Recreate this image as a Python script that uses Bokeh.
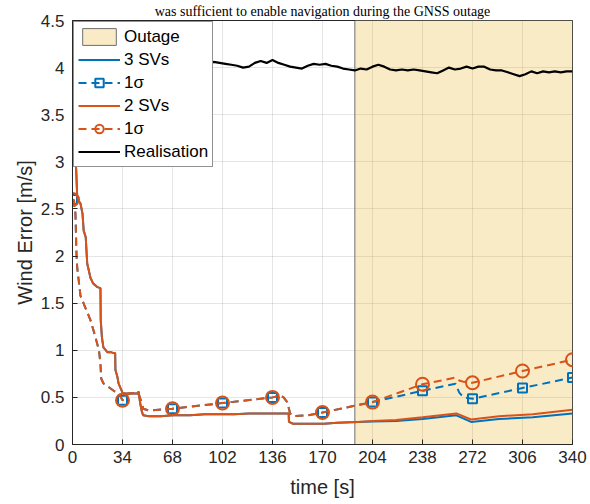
import numpy as np
from bokeh.plotting import figure
from bokeh.models import (Range1d, FixedTicker, CustomJSTickFormatter, Legend,
                          LegendItem, Title)
from bokeh.embed import file_html
from bokeh.resources import INLINE

# GNSS outage window [s]
outage_start = 192
outage_end = 340

x_ticks = [0, 34, 68, 102, 136, 170, 204, 238, 272, 306, 340]
y_ticks = [0, 0.5, 1, 1.5, 2, 2.5, 3, 3.5, 4, 4.5]

# wind estimation error, identical for both constellations before the outage
t_err = [0, 1.5, 2.5, 3.2, 4, 5.4, 6.8, 7.6, 9, 10, 12.2, 14, 17, 19, 19.2, 20,
         21, 23.7, 26, 28, 29, 29.2, 30.5, 31.3, 32.6, 34, 36, 40, 44, 45, 46,
         47, 48, 52, 60, 68, 80, 90, 102, 110, 120, 128, 136, 143, 147, 147.2,
         150, 160, 171, 180, 194, 204, 220, 238, 261, 271, 290, 313, 340]
err_3sv = [3.4, 3.1, 2.92, 2.63, 2.59, 2.56, 2.45, 2.27, 2.2, 1.92, 1.77, 1.71,
           1.67, 1.66, 1.32, 1.14, 1.03, 0.98, 0.98, 0.97, 0.97, 0.79, 0.72,
           0.65, 0.6, 0.55, 0.54, 0.54, 0.54, 0.56, 0.44, 0.36, 0.31, 0.30,
           0.30, 0.31, 0.31, 0.32, 0.32, 0.32, 0.33, 0.33, 0.33, 0.33, 0.33,
           0.24, 0.22, 0.22, 0.22, 0.23, 0.24, 0.245, 0.25, 0.27, 0.31, 0.24,
           0.27, 0.29, 0.33]
err_2sv = [3.4, 3.1, 2.92, 2.63, 2.59, 2.56, 2.45, 2.27, 2.2, 1.92, 1.77, 1.71,
           1.67, 1.66, 1.32, 1.14, 1.03, 0.98, 0.98, 0.97, 0.97, 0.79, 0.72,
           0.65, 0.6, 0.55, 0.54, 0.54, 0.54, 0.56, 0.44, 0.36, 0.31, 0.30,
           0.30, 0.31, 0.31, 0.32, 0.32, 0.32, 0.33, 0.33, 0.33, 0.33, 0.33,
           0.24, 0.22, 0.22, 0.22, 0.23, 0.24, 0.25, 0.26, 0.29, 0.33, 0.265,
           0.30, 0.32, 0.37]

# 1-sigma bound of the estimate
t_sig = [0, 1, 2, 2.7, 3.2, 5.4, 8.8, 12.2, 14.5, 16.8, 18, 19, 19.5, 21, 28,
         31.5, 34, 38, 44, 45, 47, 48, 52, 68, 102, 136, 141.5, 143.5, 146,
         148, 150, 160, 170, 204, 238, 260.5, 263, 266, 272, 306, 340]
sig_3sv = [2.6, 2.59, 2.45, 2.03, 1.88, 1.58, 1.45, 1.32, 1.2, 1.07, 1.0,
           0.86, 0.7, 0.65, 0.57, 0.54, 0.47, 0.54, 0.55, 0.53, 0.45, 0.38,
           0.36, 0.38, 0.44, 0.50, 0.52, 0.50, 0.45, 0.33, 0.30, 0.31, 0.34,
           0.45, 0.57, 0.645, 0.55, 0.50, 0.485, 0.60, 0.71]
sig_2sv = [2.6, 2.59, 2.45, 2.03, 1.88, 1.58, 1.45, 1.32, 1.2, 1.07, 1.0,
           0.86, 0.7, 0.65, 0.57, 0.54, 0.47, 0.54, 0.55, 0.53, 0.45, 0.38,
           0.36, 0.38, 0.44, 0.50, 0.52, 0.50, 0.45, 0.33, 0.30, 0.31, 0.34,
           0.45, 0.64, 0.71, 0.68, 0.665, 0.655, 0.78, 0.90]

# true wind error realisation, sampled every 4 s
t_real = list(range(0, 341, 4))
real = [4.00, 4.03, 4.01, 3.98, 4.02, 4.05, 4.03, 4.00, 4.02, 4.04, 4.01, 3.99,
        4.02, 4.04, 4.06, 4.03, 4.01, 4.03, 4.05, 4.02, 4.00, 4.03, 4.05, 4.04,
        4.06,
        4.05, 4.04, 4.03, 4.02, 4.00, 4.01, 4.05, 4.07, 4.05, 4.08, 4.05, 4.03,
        4.01, 4.00, 3.99, 4.02, 4.04, 4.03, 4.04, 4.02, 4.01, 3.99, 3.98, 3.97,
        3.99, 3.98, 4.01, 4.03, 4.01, 3.98, 3.97, 3.98, 3.97, 3.98, 3.97, 3.96,
        3.95, 3.94, 3.97, 4.00, 3.98, 3.99, 4.01, 3.99, 4.01, 4.01, 3.98, 3.97,
        3.97, 3.95, 3.93, 3.91, 3.93, 3.96, 3.94, 3.96, 3.95, 3.96, 3.95, 3.96,
        3.96]

BLUE = "#0072BD"
ORANGE = "#D95319"
AX = "#262626"
FONT = "Liberation Sans"

p = figure(width=590, height=504, output_backend="svg", toolbar_location=None,
           x_range=Range1d(0, 340), y_range=Range1d(0, 4.5),
           min_border_left=72, min_border_right=18, min_border_top=0,
           min_border_bottom=60)
p.background_fill_color = "white"
p.border_fill_color = "white"
p.outline_line_color = AX
p.outline_line_width = 1

# running text of the page above the figure
p.add_layout(Title(text="was sufficient to enable navigation during the GNSS outage",
                   text_font="Liberation Serif", text_font_size="14px",
                   text_font_style="normal", text_color="black",
                   align="center", standoff=3), "above")

# axes styling
for ax in (p.xaxis[0], p.yaxis[0]):
    ax.axis_line_color = AX
    ax.major_tick_line_color = AX
    ax.major_tick_in = 5
    ax.major_tick_out = 0
    ax.minor_tick_line_color = None
    ax.major_label_text_font = FONT
    ax.major_label_text_font_size = "17px"
    ax.major_label_text_color = AX
    ax.axis_label_text_font = FONT
    ax.axis_label_text_font_size = "20px"
    ax.axis_label_text_font_style = "normal"
    ax.axis_label_text_color = AX

p.xaxis.ticker = FixedTicker(ticks=x_ticks)
p.yaxis.ticker = FixedTicker(ticks=y_ticks)
p.yaxis.formatter = CustomJSTickFormatter(code="return String(Math.round(tick*10)/10);")
p.xaxis.axis_label = "time [s]"
p.yaxis.axis_label = "Wind Error [m/s]"
p.xaxis.major_label_standoff = 6
p.yaxis.major_label_standoff = 8
p.xaxis.axis_label_standoff = 10
p.yaxis.axis_label_standoff = 2

for g in (p.xgrid[0], p.ygrid[0]):
    g.grid_line_color = AX
    g.grid_line_alpha = 0.12
    g.grid_line_width = 1

# outage shading
outage = p.quad(left=[outage_start], right=[outage_end], bottom=[0], top=[4.5],
                fill_color="#EDB120", fill_alpha=0.25, line_color="#6e6e6e",
                line_width=1)

# markers every 34 s on the sigma curves
mk_t = x_ticks
mk_3 = [sig_3sv[t_sig.index(t)] for t in mk_t]
mk_2 = [sig_2sv[t_sig.index(t)] for t in mk_t]

l3 = p.line(t_err, err_3sv, line_color=BLUE, line_width=2)
s3 = p.line(t_sig, sig_3sv, line_color=BLUE, line_width=2, line_dash="8 5")
m3 = p.scatter(mk_t, mk_3, marker="square", size=9, fill_color=None,
               line_color=BLUE, line_width=2)
l2 = p.line(t_err, err_2sv, line_color=ORANGE, line_width=2)
s2 = p.line(t_sig, sig_2sv, line_color=ORANGE, line_width=2, line_dash="8 5")
m2 = p.scatter(mk_t, mk_2, marker="circle", size=13, fill_color=None,
               line_color=ORANGE, line_width=2)
lr = p.line(t_real, real, line_color="black", line_width=2.2)

legend = Legend(items=[
    LegendItem(label="Outage", renderers=[outage]),
    LegendItem(label="3 SVs", renderers=[l3]),
    LegendItem(label="1σ", renderers=[s3, m3]),
    LegendItem(label="2 SVs", renderers=[l2]),
    LegendItem(label="1σ", renderers=[s2, m2]),
    LegendItem(label="Realisation", renderers=[lr]),
], location="top_left")
legend.margin = 1
legend.padding = 4
legend.spacing = 2
legend.glyph_height = 21
legend.label_height = 21
legend.glyph_width = 42
legend.label_standoff = 4
legend.label_text_font = FONT
legend.label_text_font_size = "17px"
legend.label_text_color = "black"
legend.border_line_color = AX
legend.border_line_width = 1
legend.background_fill_alpha = 1
p.add_layout(legend, "center")

open("out.html", "w").write(file_html(p, INLINE))
